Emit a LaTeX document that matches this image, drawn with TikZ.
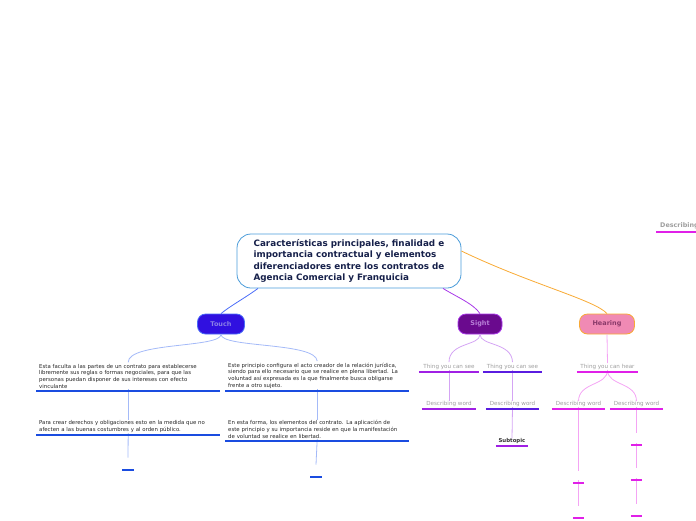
\documentclass[tikz,border=0pt]{standalone}
\usepackage{fontspec}
\setmainfont{DejaVu Sans}

\definecolor{rootline}{HTML}{4A9BD9}
\definecolor{roottext}{HTML}{16204A}
\definecolor{touchfill}{HTML}{3010E0}
\definecolor{touchline}{HTML}{4A6CF8}
\definecolor{touchtext}{HTML}{8A80E6}
\definecolor{sightfill}{HTML}{6A0A8E}
\definecolor{sightline}{HTML}{A838E8}
\definecolor{sighttext}{HTML}{B880D8}
\definecolor{hearfill}{HTML}{F08AB4}
\definecolor{hearline}{HTML}{F8AA34}
\definecolor{heartext}{HTML}{8A3A6A}
\definecolor{bluedark}{HTML}{1A4CE0}
\definecolor{bluelight}{HTML}{A4BAF8}
\definecolor{purpdark}{HTML}{A020E4}
\definecolor{violdark}{HTML}{5A1CE0}
\definecolor{purplight}{HTML}{D4A4F4}
\definecolor{magdark}{HTML}{E020E8}
\definecolor{maglight}{HTML}{F4A4F4}

\tikzset{
  mainbox/.style={rounded corners=8pt, minimum height=20pt, inner sep=0pt,
    line width=0.8pt, font=\fontsize{6.5}{8}\selectfont\bfseries},
  note/.style={anchor=south west, align=left, text width=178pt, inner xsep=3pt,
    inner ysep=2.5pt, text=black!85, font=\fontsize{5.4}{6.7}\selectfont},
  topic/.style={anchor=south, inner xsep=0pt, inner ysep=2.5pt, text=black!38,
    font=\fontsize{5.6}{6.5}\selectfont},
  stub/.style={anchor=south, minimum width=11pt, minimum height=12pt, inner sep=0pt},
  uline/.style={line width=1.4pt},
  thin/.style={line width=0.8pt}
}

\begin{document}
\begin{tikzpicture}[x=1pt,y=-1pt]
\useasboundingbox (0,0) rectangle (696,520);
\clip (0,0) rectangle (696,520);

% central topic
\node[draw=rootline, line width=0.8pt, rounded corners=14pt, minimum width=224pt,
  minimum height=54pt, align=left, text=roottext,
  font=\fontsize{8.8}{11.5}\selectfont\bfseries] (root) at (349,261)
  {Características principales, finalidad e\\importancia contractual y elementos\\diferenciadores entre los contratos de\\Agencia Comercial y Franquicia};

% main branches
\node[mainbox, minimum width=47pt, fill=touchfill, draw=touchline, text=touchtext] (touch) at (221,324) {Touch};
\node[mainbox, minimum width=44pt, fill=sightfill, draw=sightline, text=sighttext] (sight) at (480,324) {Sight};
\node[mainbox, minimum width=55pt, fill=hearfill, draw=hearline, text=heartext] (hearing) at (607,324) {Hearing};

\draw[thin, touchline] ([xshift=-91pt]root.south) .. controls (245,298) and (230,306) .. (touch.north);
\draw[thin, sightline] ([xshift=94pt]root.south) .. controls (455,296) and (474,304) .. (sight.north);
\draw[thin, hearline] ([yshift=10pt]root.east) .. controls (530,284) and (595,300) .. (hearing.north);

% Touch
\node[note] (t1) at (36,391) {Esta faculta a las partes de un contrato para establecerse\\libremente sus reglas o formas negociales, para que las\\personas puedan disponer de sus intereses con efecto\\vinculante};
\node[note] (t2) at (225,391) {Este principio configura el acto creador de la relación jurídica,\\siendo para ello necesario que se realice en plena libertad. La\\voluntad así expresada es la que finalmente busca obligarse\\frente a otro sujeto.};
\node[note] (t3) at (36,435) {Para crear derechos y obligaciones esto en la medida que no\\afecten a las buenas costumbres y al orden público.};
\node[note] (t4) at (225,441) {En esta forma, los elementos del contrato. La aplicación de\\este principio y su importancia reside en que la manifestación\\de voluntad se realice en libertad.};
\node[stub] (t5) at (128,470) {};
\node[stub] (t6) at (316,477) {};

\draw[thin, bluelight] (touch.south) .. controls (221,348) and (128,342) .. ([yshift=-1pt]t1.north);
\draw[thin, bluelight] (touch.south) .. controls (221,348) and (316,342) .. ([yshift=-1pt]t2.north);
\draw[thin, bluelight] ([yshift=2pt]t1.south) -- ([yshift=-2pt]t3.north);
\draw[thin, bluelight] ([yshift=2pt]t2.south) -- ([yshift=-2pt]t4.north);
\draw[thin, bluelight] ([yshift=2pt]t3.south) -- (t5.north);
\draw[thin, bluelight] ([yshift=2pt]t4.south) -- (t6.north);
\foreach \t in {t1,t2,t3,t4,t5,t6}
  \draw[uline, bluedark] (\t.south west) -- (\t.south east);

% Sight
\node[topic, minimum width=60pt] (s1) at (449,372) {Thing you can see};
\node[topic, minimum width=59pt] (s2) at (512.5,372) {Thing you can see};
\node[topic, minimum width=54pt] (s3) at (449,409) {Describing word};
\node[topic, minimum width=53pt] (s4) at (512.5,409) {Describing word};
\node[topic, minimum width=32pt, text=black!80, font=\fontsize{5.4}{6.5}\selectfont\bfseries] (s5) at (512,446) {Subtopic};

\draw[thin, purplight] (sight.south) .. controls (480,346) and (449,342) .. ([yshift=-1pt]s1.north);
\draw[thin, purplight] (sight.south) .. controls (480,346) and (512,342) .. ([yshift=-1pt]s2.north);
\draw[thin, purplight] ([yshift=2pt]s1.south) -- ([yshift=-3pt]s3.north);
\draw[thin, purplight] ([yshift=2pt]s2.south) -- ([yshift=-3pt]s4.north);
\draw[thin, purplight] ([yshift=2pt]s4.south) -- ([yshift=-3pt]s5.north);
\foreach \t in {s1,s3,s5}
  \draw[uline, purpdark] (\t.south west) -- (\t.south east);
\foreach \t in {s2,s4}
  \draw[uline, violdark] (\t.south west) -- (\t.south east);

% Hearing
\node[topic, minimum width=61pt] (h1) at (607.5,372) {Thing you can hear};
\node[topic, minimum width=53pt] (h2) at (578.5,409) {Describing word};
\node[topic, minimum width=53pt] (h3) at (636.5,409) {Describing word};
\coordinate (hgap) at (578.5,441);
\node[stub] (hl1) at (578.5,483) {};
\node[stub] (hl2) at (578.5,518) {};
\foreach \n/\y in {1/445,2/480,3/516}
  \node[stub] (hr\n) at (636.5,\y) {};
\node[topic, anchor=south west, inner xsep=4pt, font=\fontsize{6.4}{7}\selectfont\bfseries] (far) at (656,232) {Describing word};

\draw[thin, maglight] (hearing.south) -- ([yshift=-2pt]h1.north);
\draw[thin, maglight] ([yshift=2pt]h1.south) .. controls (607.5,386) and (578.5,382) .. ([yshift=-3pt]h2.north);
\draw[thin, maglight] ([yshift=2pt]h1.south) .. controls (607.5,386) and (636.5,382) .. ([yshift=-3pt]h3.north);
\draw[thin, maglight] ([yshift=2pt]h2.south) -- ([yshift=-8pt]hgap);
\draw[thin, maglight] ([yshift=7pt]hgap) -- (hl1.north);
\draw[thin, maglight] ([yshift=3pt]hl1.south) -- (hl2.north);
\draw[thin, maglight] ([yshift=2pt]h3.south) -- (hr1.north);
\draw[thin, maglight] ([yshift=2pt]hr1.south) -- (hr2.north);
\draw[thin, maglight] ([yshift=2pt]hr2.south) -- (hr3.north);
\foreach \t in {h1,h2,h3,hl1,hl2,hr1,hr2,hr3,far}
  \draw[uline, magdark] (\t.south west) -- (\t.south east);
\end{tikzpicture}
\end{document}
